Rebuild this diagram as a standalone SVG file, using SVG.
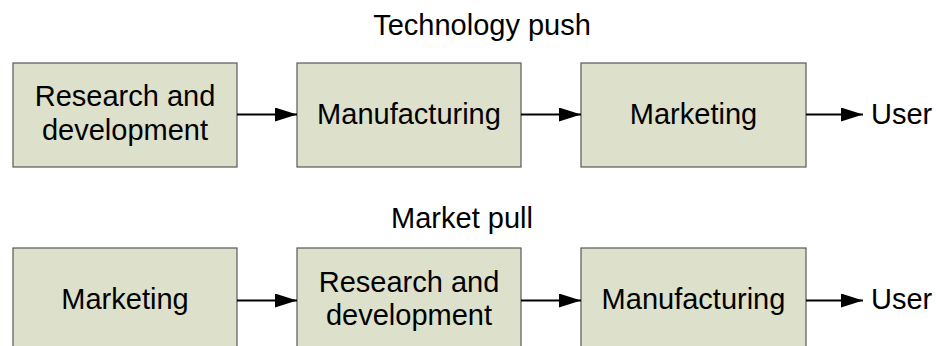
<svg xmlns="http://www.w3.org/2000/svg" width="936" height="346" viewBox="0 0 936 346">
<style>
.box{fill:#dde0cb;stroke:#595959;stroke-width:1.2}
.t{font-family:"Liberation Sans",Arial,sans-serif;font-size:29px;fill:#000;text-anchor:middle}
.u{font-family:"Liberation Sans",Arial,sans-serif;font-size:29px;fill:#000}
.c{stroke:#000;stroke-width:2;fill:none;marker-end:url(#ah)}
</style>
<defs>
<marker id="ah" markerUnits="userSpaceOnUse" markerWidth="24" markerHeight="16" refX="22" refY="7" orient="auto">
<path d="M0,0 L22,7 L0,14 z" fill="#000"/>
</marker>
</defs>
<text class="t" x="482" y="35">Technology push</text>
<text class="t" x="462" y="228">Market pull</text>
<g id="tp-rd"><rect class="box" x="13" y="63" width="224" height="104"/><text class="t" x="125" y="106">Research and</text><text class="t" x="125" y="140">development</text></g>
<g id="tp-man"><rect class="box" x="297" y="63" width="224" height="104"/><text class="t" x="409" y="124">Manufacturing</text></g>
<g id="tp-mkt"><rect class="box" x="581" y="63" width="225" height="104"/><text class="t" x="693.5" y="124">Marketing</text></g>
<g id="tp-user"><text class="u" x="871" y="124">User</text></g>
<g id="mp-mkt"><rect class="box" x="13" y="248" width="224" height="104"/><text class="t" x="125" y="309">Marketing</text></g>
<g id="mp-rd"><rect class="box" x="297" y="248" width="224" height="104"/><text class="t" x="409" y="292">Research and</text><text class="t" x="409" y="325">development</text></g>
<g id="mp-man"><rect class="box" x="581" y="248" width="225" height="104"/><text class="t" x="693.5" y="309">Manufacturing</text></g>
<g id="mp-user"><text class="u" x="871" y="309">User</text></g>
<g id="connectors">
<line class="c" x1="237" y1="114.5" x2="297" y2="114.5"/>
<line class="c" x1="521" y1="114.5" x2="581" y2="114.5"/>
<line class="c" x1="806" y1="114.5" x2="863" y2="114.5"/>
<line class="c" x1="237" y1="300.5" x2="297" y2="300.5"/>
<line class="c" x1="521" y1="300.5" x2="581" y2="300.5"/>
<line class="c" x1="806" y1="300.5" x2="863" y2="300.5"/>
</g>
</svg>
